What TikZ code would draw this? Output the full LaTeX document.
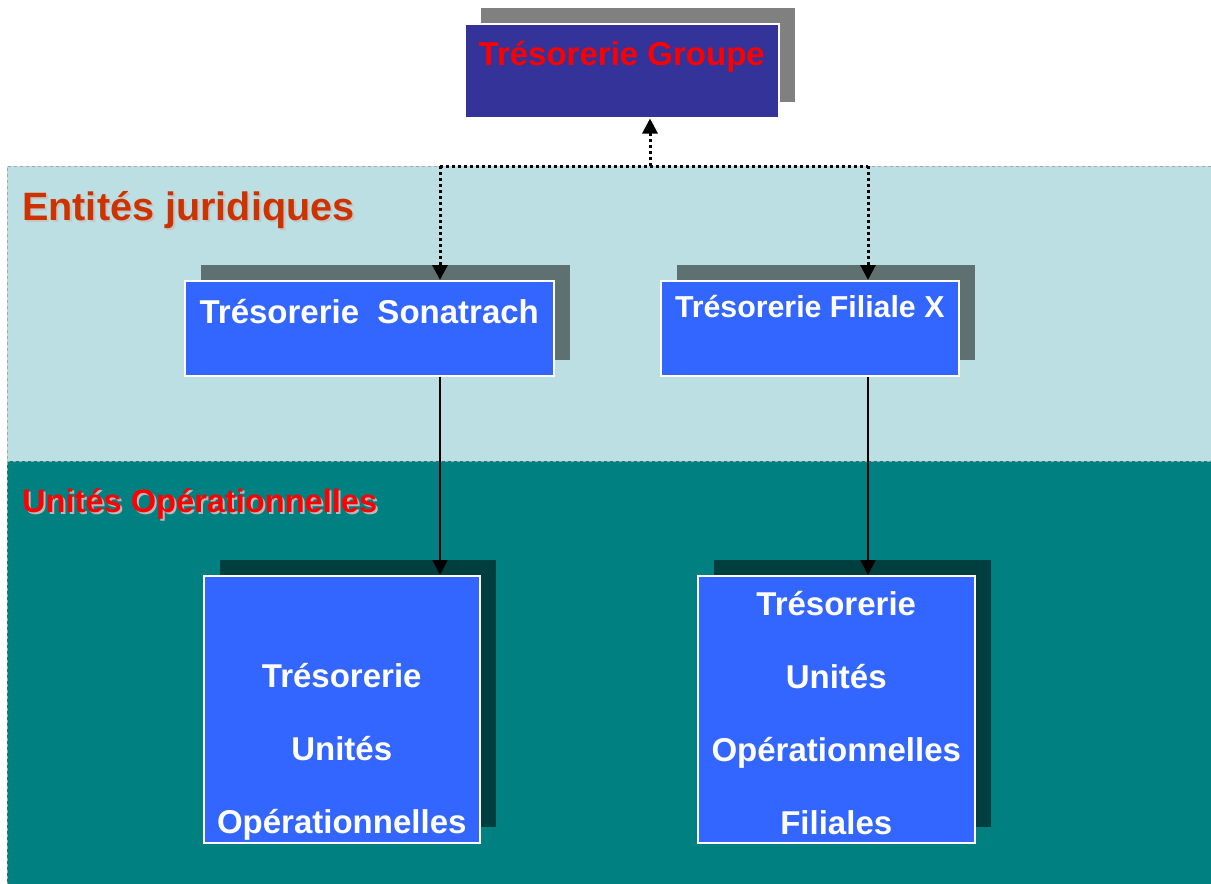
\documentclass[tikz,border=0pt]{standalone}
\usepackage{fontspec}
\setmainfont{Liberation Sans}
\usepackage{tikz}
\usetikzlibrary{arrows.meta}
\usetikzlibrary{shadows}
\definecolor{groupblue}{HTML}{333399}
\definecolor{boxblue}{HTML}{3366FF}
\definecolor{shgray}{HTML}{808080}
\definecolor{shslate}{HTML}{5F7070}
\definecolor{shteal}{HTML}{003F3F}
\definecolor{bandlight}{HTML}{BBDFE2}
\definecolor{bandteal}{HTML}{008080}
\definecolor{entorange}{HTML}{CC3300}
\tikzstyle{tbox}=[draw=white, line width=1.5pt, inner sep=0pt, anchor=north west, text=white, fill=boxblue, font=\bfseries\fontsize{33}{73}\selectfont]
\tikzstyle{gbox}=[tbox, fill=groupblue, text=red, font=\bfseries\fontsize{33}{40}\selectfont, general shadow={fill=shgray, shadow xshift=16pt, shadow yshift=16pt}]
\tikzstyle{ebox}=[tbox, general shadow={fill=shslate, shadow xshift=16pt, shadow yshift=16pt}]
\tikzstyle{ubox}=[tbox, align=center, minimum height=267pt, general shadow={fill=shteal, shadow xshift=16pt, shadow yshift=16pt}]
\tikzstyle{band}=[draw=gray!70, dashed, line width=0.6pt]
\tikzstyle{dotlink}=[line width=3pt, dash pattern=on 3pt off 3pt, -{Triangle[length=15pt, width=15pt]}]
\tikzstyle{link}=[line width=2.2pt, -{Triangle[length=15pt, width=15pt]}]
\tikzstyle{title}=[anchor=base west, inner sep=0pt, font=\bfseries]

\begin{document}
\begin{tikzpicture}[x=1pt, y=-1pt]
        \useasboundingbox (0,0) rectangle (1211,884);
        \fill[bandlight] (7,166) rectangle (1211,461);
        \fill[bandteal] (7,461) rectangle (1211,884);
        \draw[band] (1211,166) -- (7,166) -- (7,884);
        \draw[band] (7,461) -- (1211,461);
        \node[title, text=gray!45, font=\bfseries\fontsize{39.6}{45}\selectfont] (EJs) at (24,222) {Entités juridiques};
        \node[title, text=entorange, font=\bfseries\fontsize{39.6}{45}\selectfont] (EJ) at (22,220) {Entités juridiques};
        \node[title, text=gray!55, font=\bfseries\fontsize{32.6}{40}\selectfont] (UOs) at (24,514) {Unités Opérationnelles};
        \node[title, text=red, font=\bfseries\fontsize{32.6}{40}\selectfont] (UO) at (22,512) {Unités Opérationnelles};
        \node[gbox, minimum width=314pt, text height=42pt, text depth=52pt] (T0) at (464,23) {Trésorerie Groupe};
        \node[ebox, minimum width=369pt, text height=43pt, text depth=52pt] (T1) at (184,280) {Trésorerie\ \ Sonatrach};
        \node[ebox, minimum width=298pt, text height=37pt, text depth=58pt, font=\bfseries\fontsize{30.3}{36}\selectfont] (T2) at (660,280) {Trésorerie Filiale X};
        \node[ubox, minimum width=276pt] (U1) at (203,575) {\rule{0pt}{36pt}\\Trésorerie\\Unités\\Opérationnelles};
        \node[ubox, minimum width=277pt] (U2) at (697,575) {\rule{0pt}{32pt}Trésorerie\\Unités\\Opérationnelles\\Filiales};
        \coordinate (J0) at (650,166);
        \coordinate (J1) at (440,166);
        \coordinate (J2) at (868,166);
        \draw[line width=3pt, dash pattern=on 3pt off 3pt] (J1) -- (J2);
        \draw[dotlink] (J0) -- (T0.south -| J0);
        \draw[dotlink] (J1) -- (T1.north -| J1);
        \draw[dotlink] (J2) -- (T2.north -| J2);
        \draw[link] (T1.south -| J1) -- (U1.north -| J1);
        \draw[link] (T2.south -| J2) -- (U2.north -| J2);
    \end{tikzpicture}
\end{document}
